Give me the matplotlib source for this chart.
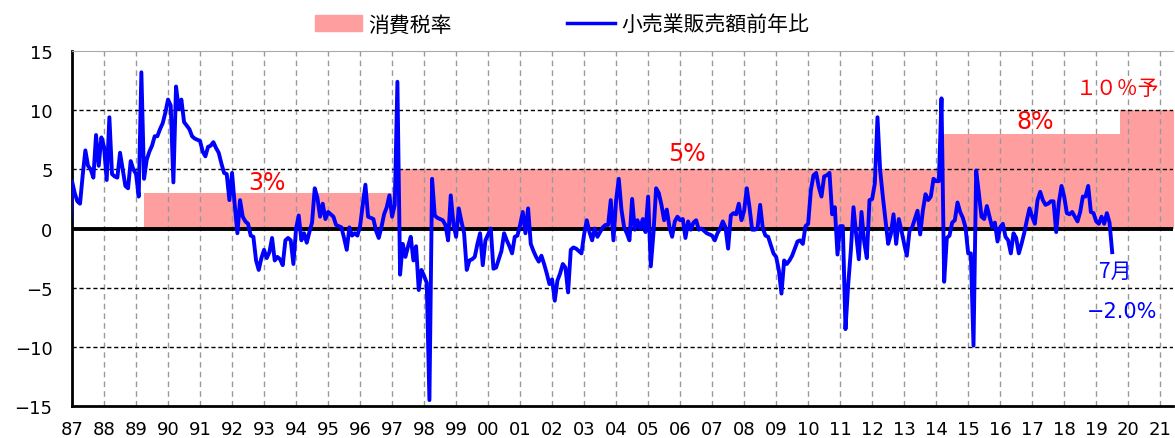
import numpy as np
import pandas as pd
import matplotlib
matplotlib.use('Agg')
import matplotlib.pyplot as plt
from matplotlib.patches import Patch
from matplotlib.lines import Line2D

plt.rcParams['font.family'] = ['Noto Sans CJK JP', 'DejaVu Sans']

# 小売業販売額 前年比(%)  1986/12 ～ 2019/7 の月次
retail_yoy = [
    -1.0,
    4.0, 3.0, 2.3, 2.1, 4.5, 6.6, 5.3, 5.0, 4.3, 7.9, 5.3, 7.7,         # 87
    6.9, 4.1, 9.4, 4.6, 4.4, 4.3, 6.4, 5.0, 3.6, 3.4, 5.7, 5.0,         # 88
    4.6, 2.7, 13.2, 4.2, 5.8, 6.5, 7.0, 7.8, 7.8, 8.4, 8.9, 9.8,        # 89
    10.9, 10.4, 3.9, 12.0, 10.1, 10.9, 9.0, 8.7, 8.4, 7.8, 7.6, 7.5,    # 90
    7.4, 6.5, 6.1, 6.9, 7.0, 7.3, 6.8, 6.4, 5.5, 4.7, 4.6, 2.4,         # 91
    4.7, 2.0, -0.4, 2.4, 1.0, 0.6, 0.4, -0.6, -0.7, -2.7, -3.5, -2.5,   # 92
    -1.8, -2.5, -2.0, -0.8, -2.7, -2.4, -2.6, -3.1, -1.0, -0.8, -1.0, -3.0,  # 93
    0.0, 1.1, -1.0, -0.4, -1.2, -0.3, 0.5, 3.4, 2.6, 1.0, 2.1, 0.8,     # 94
    1.4, 1.2, 1.0, 0.3, 0.2, 0.1, -0.8, -1.8, 0.1, -0.6, -0.4, -0.6,    # 95
    0.2, 2.0, 3.7, 1.0, 0.9, 0.8, -0.2, -0.8, 0.1, 1.2, 1.8, 2.8,       # 96
    1.0, 2.0, 12.4, -3.9, -1.3, -2.4, -1.5, -0.7, -2.7, -1.5, -5.2, -3.5,  # 97
    -4.0, -4.6, -14.5, 4.2, 1.1, 0.9, 0.8, 0.7, 0.3, -1.0, 2.8, 0.4,    # 98
    -0.7, 1.7, 0.6, -0.4, -3.5, -2.7, -2.6, -2.4, -1.3, -0.4, -3.1, -1.0,  # 99
    -0.5, 0.0, -3.4, -3.3, -2.6, -1.9, -0.4, -1.0, -1.5, -2.1, -0.7, -0.6,  # 00
    0.3, 1.4, -0.4, 1.7, -1.3, -1.9, -2.4, -2.8, -2.3, -3.0, -3.8, -4.7,   # 01
    -4.3, -6.1, -4.4, -3.8, -3.0, -3.3, -5.4, -1.8, -1.6, -1.7, -1.9, -2.1,  # 02
    -0.5, 0.7, -0.3, -1.0, 0.0, -0.7, -0.3, 0.1, 0.3, 0.3, 2.4, -1.0,   # 03
    2.4, 4.2, 1.6, 0.1, -0.4, -1.0, 2.5, -0.1, 0.7, 0.0, 0.8, -0.3,     # 04
    2.7, -3.2, -0.4, 3.4, 3.0, 2.0, 0.7, 1.6, 0.1, -0.7, 0.6, 1.0,      # 05
    0.7, 0.8, -0.8, 0.6, -0.1, 0.5, 0.7, -0.1, 0.0, -0.2, -0.4, -0.5,   # 06
    -0.6, -1.0, -0.4, 0.0, 0.6, 0.1, -1.7, 1.1, 1.3, 1.2, 2.1, 0.7,     # 07
    1.5, 3.4, 1.8, -0.1, -0.1, 0.0, 2.0, 0.0, -0.6, -0.7, -1.4, -2.1,   # 08
    -2.4, -3.5, -5.5, -2.7, -3.0, -2.7, -2.3, -1.7, -1.1, -1.0, -1.3, 0.2,  # 09
    0.4, 3.2, 4.5, 4.7, 3.5, 2.7, 4.4, 4.5, 4.7, 1.2, 1.8, -2.2,        # 10
    0.2, 0.2, -8.5, -4.8, -1.9, 1.8, -0.5, -2.6, 1.4, -1.1, -2.5, 2.4,  # 11
    2.5, 3.8, 9.4, 4.9, 2.7, 0.7, -1.3, -0.5, 1.2, -1.3, 0.8, -0.2,     # 12
    -1.3, -2.3, -0.2, 0.1, 0.8, 1.5, -0.5, 1.5, 2.9, 2.4, 2.7, 4.2,     # 13
    4.0, 4.0, 11.0, -4.5, -0.8, -0.6, 0.5, 0.7, 2.2, 1.4, 0.9, 0.1,     # 14
    -2.1, -2.1, -9.9, 4.9, 3.0, 1.0, 0.8, 1.9, 1.0, 0.1, 0.5, -1.1,     # 15
    0.1, 0.4, -0.7, -1.0, -2.1, -0.4, -0.8, -2.1, -1.3, -0.4, 0.7, 1.7,  # 16
    1.0, 0.4, 2.4, 3.1, 2.4, 2.0, 2.1, 2.3, 2.3, -0.3, 2.2, 3.6,        # 17
    2.7, 1.3, 1.2, 1.4, 1.0, 0.6, 1.4, 2.7, 2.7, 3.6, 1.4, 1.3,         # 18
    0.6, 0.4, 1.0, 0.4, 1.3, 0.5, -2.0,                                 # 19
]

# 消費税率 (施行年月, 税率)
tax_start = ['1987-01', '1989-04', '1997-04', '2014-04', '2019-10', '2021-06']
tax_rate = [0, 3, 5, 8, 10, 10]

year_labels = ['87', '88', '89', '90', '91', '92', '93', '94', '95', '96',
               '97', '98', '99', '00', '01', '02', '03', '04', '05', '06',
               '07', '08', '09', '10', '11', '12', '13', '14', '15', '16',
               '17', '18', '19', '20', '21']


def to_year(d):
    d = pd.DatetimeIndex(d)
    return d.year + (d.month - 1) / 12.0


months = pd.date_range('1986-12', periods=len(retail_yoy), freq='MS')
x = to_year(months)
tx = to_year(pd.to_datetime(tax_start))

fig = plt.figure(figsize=(11.75, 4.39), dpi=100)
ax = fig.add_axes([0.0613, 0.0729, 0.937, 0.8086])

ax.fill_between(tx, tax_rate, 0, step='post', color='#ff9e9e', lw=0, zorder=1)

# grid
for yy in range(1988, 2022):
    ax.axvline(yy, color='#999999', lw=1, ls=(0, (4, 3)), zorder=2)
for v in [-10, -5, 5, 10]:
    ax.axhline(v, color='black', lw=1, ls=(0, (3, 2)), zorder=2)
ax.axhline(0, color='black', lw=2.8, zorder=3)

ax.plot(x, retail_yoy, color='#0000ff', lw=2.8, zorder=4)

ax.set_xlim(1987, 2021.4)
ax.set_ylim(-15, 15)
ax.set_yticks([-15, -10, -5, 0, 5, 10, 15])
ax.set_xticks(range(1987, 2022))
ax.set_xticklabels(year_labels, family=['Liberation Sans Narrow', 'DejaVu Sans'], fontsize=13)
ax.tick_params(axis='y', labelsize=13, length=0, pad=14)
ax.tick_params(axis='x', length=0, pad=10)
for lab in ax.get_yticklabels():
    lab.set_family(['DejaVu Sans'])

ax.spines['right'].set_visible(False)
ax.spines['top'].set_color('#aaaaaa')
ax.spines['left'].set_linewidth(2)
ax.spines['bottom'].set_linewidth(2)

red = '#ff0000'
ax.text(1993.1, 3.9, '3%', color=red, fontsize=17, ha='center', va='center', family='DejaVu Sans')
ax.text(2006.2, 6.4, '5%', color=red, fontsize=17, ha='center', va='center', family='DejaVu Sans')
ax.text(2017.1, 9.1, '8%', color=red, fontsize=17, ha='center', va='center', family='DejaVu Sans')
ax.text(2019.68, 11.9, '１０％予', color=red, fontsize=15, ha='center', va='center')
ax.text(2019.6, -3.6, '7月', color='#0000ff', fontsize=15, ha='center', va='center')
ax.text(2019.8, -7.0, '−2.0%', color='#0000ff', fontsize=15, ha='center', va='center', family='DejaVu Sans')

handles = [Patch(color='#ff9e9e', label='消費税率'),
           Line2D([], [], color='#0000ff', lw=2.5, label='小売業販売額前年比')]
fig.legend(handles=handles, loc='center', bbox_to_anchor=(0.478, 0.942), ncol=2,
           frameon=False, fontsize=15, handlelength=2.3, handleheight=0.8,
           columnspacing=5.5, handletextpad=0.3)

fig.savefig('out.png', dpi=100)
